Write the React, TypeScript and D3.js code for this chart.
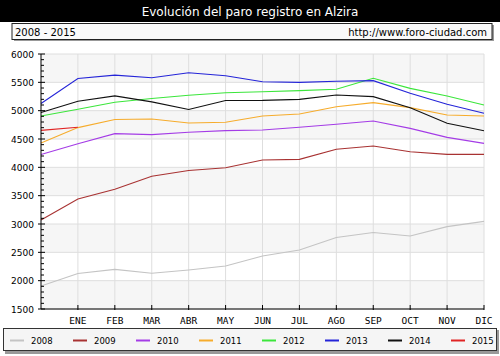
import React from "react";
import * as d3 from "d3";

const months = ["", "ENE", "FEB", "MAR", "ABR", "MAY", "JUN", "JUL", "AGO", "SEP", "OCT", "NOV", "DIC"];
const years = ["2008", "2009", "2010", "2011", "2012", "2013", "2014", "2015"];
const colors = ["#c4c4c4", "#a83232", "#a43ce6", "#f6ac2c", "#3ce63c", "#2424d8", "#111111", "#e02424"];

const s2008 = [1905, 2127, 2200, 2130, 2188, 2259, 2435, 2541, 2762, 2850, 2788, 2953, 3047];
const s2009 = [3070, 3441, 3612, 3843, 3944, 3992, 4129, 4141, 4318, 4376, 4276, 4229, 4229];
const s2010 = [4228, 4417, 4595, 4577, 4618, 4648, 4659, 4707, 4760, 4818, 4688, 4529, 4423];
const s2011 = [4428, 4701, 4843, 4854, 4783, 4795, 4906, 4941, 5070, 5141, 5053, 4924, 4906];
const s2012 = [4907, 5025, 5149, 5215, 5273, 5315, 5335, 5353, 5377, 5571, 5394, 5259, 5100];
const s2013 = [5126, 5569, 5628, 5580, 5669, 5616, 5511, 5500, 5518, 5530, 5306, 5112, 4953];
const s2014 = [4967, 5167, 5261, 5155, 5020, 5179, 5182, 5200, 5276, 5247, 5053, 4777, 4647];
const s2015 = [4653, 4707];
const series = [s2008, s2009, s2010, s2011, s2012, s2013, s2014, s2015];

const yTicks = [1500, 2000, 2500, 3000, 3500, 4000, 4500, 5000, 5500, 6000];

const title = "Evolución del paro registro en Alzira";
const subtitleLeft = "2008 - 2015";
const subtitleRight = "http://www.foro-ciudad.com";

export default function App() {
  const left = 41, right = 484, top = 54, bottom = 309;
  const x = d3.scaleLinear().domain([0, 12]).range([left, right]);
  const y = d3.scaleLinear().domain([1500, 6000]).range([bottom, top]);
  const line = d3.line<number>().x((_, i) => x(i)).y((v) => y(v));
  const minor = d3.range(1500, 6001, 100);
  const font = "'DejaVu Sans', Verdana, sans-serif";

  return (
    <svg width={500} height={356} style={{ position: "absolute", left: 0, top: 0, background: "#fff" }}>
      <rect x={0} y={0} width={500} height={22} fill="#000" />
      <text x={250} y={16} textAnchor="middle" fill="#fff" fontFamily={font} fontSize={12}>{title}</text>

      <rect x={14} y={25} width={480} height={16} fill="#999" />
      <rect x={12} y={23.5} width={480} height={16} fill="#fafafa" stroke="#222" strokeWidth={1} />
      <text x={15} y={35.5} fontFamily={font} fontSize={10} fill="#000">{subtitleLeft}</text>
      <text x={487} y={35.5} textAnchor="end" fontFamily={font} fontSize={10} fill="#000">{subtitleRight}</text>

      {yTicks.slice(0, -1).map((t, i) => (
        <rect key={"b" + t} x={left} y={y(t + 500)} width={right - left} height={y(t) - y(t + 500)}
          fill={i % 2 === 0 ? "#f6f6f6" : "#ffffff"} />
      ))}
      {yTicks.map((t) => (
        <line key={"gy" + t} x1={left} x2={right} y1={y(t)} y2={y(t)} stroke="#dedede" />
      ))}
      {months.map((m, i) => i > 0 && (
        <line key={"gx" + i} x1={x(i)} x2={x(i)} y1={top} y2={bottom} stroke="#dedede" />
      ))}

      {series.map((s, k) => (
        <path key={"s" + k} d={line(s) || ""} fill="none" stroke={colors[k]} strokeWidth={1.1} />
      ))}

      <line x1={left} x2={left} y1={top} y2={bottom} stroke="#000" />
      <line x1={left} x2={right} y1={bottom} y2={bottom} stroke="#000" />
      {minor.map((t) => (
        <line key={"mt" + t} x1={left} x2={left + (t % 500 === 0 ? 4 : 3)} y1={y(t)} y2={y(t)} stroke="#000" />
      ))}
      {yTicks.map((t) => (
        <g key={"yl" + t}>
          <line x1={left - 3} x2={left} y1={y(t)} y2={y(t)} stroke="#000" />
          <text x={34} y={y(t) + 3.5} textAnchor="end" fontFamily={font} fontSize={9} fill="#000">{t}</text>
        </g>
      ))}
      {months.map((m, i) => i > 0 && (
        <g key={"xl" + i}>
          <line x1={x(i)} x2={x(i)} y1={bottom - 4} y2={bottom + 1} stroke="#000" />
          <text x={x(i)} y={324} textAnchor="middle" fontFamily="'DejaVu Sans Mono', monospace" fontSize={9.5} fill="#000">{m}</text>
        </g>
      ))}

      <rect x={5} y={330} width={494} height={24} fill="#999" />
      <rect x={3.5} y={328.5} width={493} height={22} fill="#f5f5f5" stroke="#333" />
      {years.map((yr, k) => (
        <g key={"lg" + yr}>
          <line x1={10 + k * 63} x2={24 + k * 63} y1={340.5} y2={340.5} stroke={colors[k]} strokeWidth={2} />
          <text x={31 + k * 63} y={344} fontFamily={font} fontSize={8.5} fill="#000">{yr}</text>
        </g>
      ))}
    </svg>
  );
}
